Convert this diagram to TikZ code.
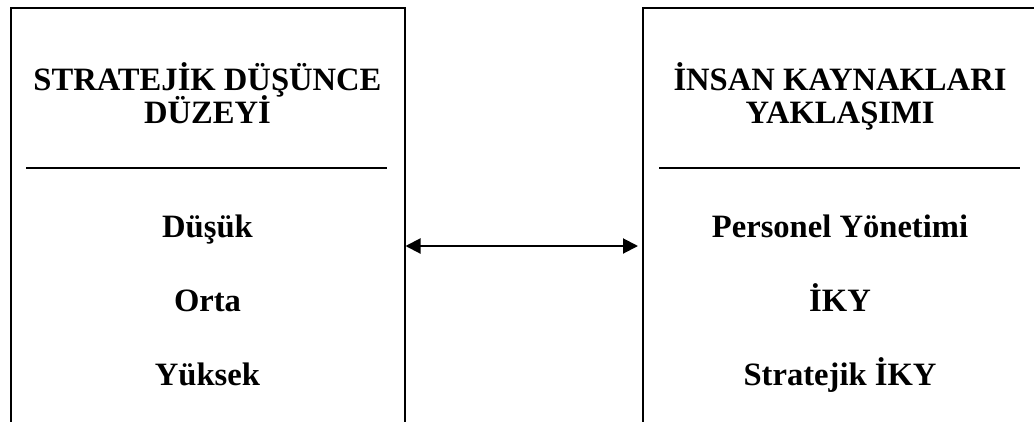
\documentclass[tikz,border=0pt]{standalone}
\usepackage{fontspec}
\setmainfont{Liberation Serif}
\usepackage{tikz}
\usetikzlibrary{arrows.meta}
\usetikzlibrary{positioning}
\tikzset{
    panel/.style={draw=black, line width=2pt, anchor=north west, inner sep=0pt,
        minimum width=394pt, minimum height=480pt},
    heading/.style={font=\bfseries\fontsize{32.6}{37.5}\selectfont, anchor=base, inner sep=0pt},
    entry/.style={font=\bfseries\fontsize{32.6}{37.5}\selectfont, anchor=base, inner sep=0pt},
    rule/.style={draw=black, line width=2pt},
    link/.style={draw=black, line width=2pt,
        {Triangle[length=15pt,width=15pt]}-{Triangle[length=15pt,width=15pt]}},
}

\begin{document}
\begin{tikzpicture}[x=1pt, y=-1pt]
	\useasboundingbox (0,0) rectangle (1034,421);
	% the two panels
	\node[panel] (leftpanel) at (9.5,7) {};
	\node[panel] (rightpanel) at (642,7) {};
	% left panel
	\node[heading] (lefttitleA) at (leftpanel.north |- 0,90) {STRATEJİK DÜŞÜNCE};
	\node[heading] (lefttitleB) at (leftpanel.north |- 0,123) {DÜZEYİ};
	\draw[rule] (26,168) -- (387,168);
	\node[entry] (low) at (leftpanel.north |- 0,237) {Düşük};
	\node[entry] (mid) at (leftpanel.north |- 0,311) {Orta};
	\node[entry] (high) at (leftpanel.north |- 0,385) {Yüksek};
	% right panel
	\node[heading] (righttitleA) at (rightpanel.north |- 0,90) {İNSAN KAYNAKLARI};
	\node[heading] (righttitleB) at (rightpanel.north |- 0,123) {YAKLAŞIMI};
	\draw[rule] (659,168) -- (1020,168);
	\node[entry] (personnel) at (rightpanel.north |- 0,237) {Personel Yönetimi};
	\node[entry] (hrm) at (rightpanel.north |- 0,311) {İKY};
	\node[entry] (strathrm) at (rightpanel.north |- 0,385) {Stratejik İKY};
	% link between the panels
	\draw[link] (leftpanel.east |- 0,246) -- ([xshift=-4pt]rightpanel.west |- 0,246);
\end{tikzpicture}
\end{document}
